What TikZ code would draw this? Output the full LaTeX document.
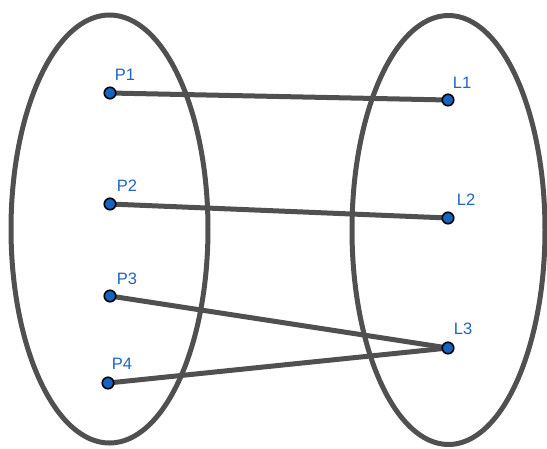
\documentclass[tikz,border=0pt]{standalone}
\usepackage{fontspec}
\setmainfont{Liberation Sans}
\definecolor{stroke}{HTML}{505050}
\definecolor{ptblue}{HTML}{1565C0}
\definecolor{lblblue}{HTML}{1F66C2}
\pgfdeclarelayer{bg}
\pgfsetlayers{bg,main}
\begin{document}
\begin{tikzpicture}[x=1pt,y=-1pt,
  setshape/.style={draw=stroke,line width=5pt},
  link/.style={draw=stroke,line width=5pt},
  pt/.style={circle,fill=ptblue,draw=black,line width=1.6pt,minimum size=11.5pt,inner sep=0pt},
  lbl/.style={text=lblblue,font=\fontsize{16.5}{19}\selectfont,inner sep=0pt}]
\useasboundingbox (0,0) rectangle (547,448);
\node[pt] (P1) at (110,93) {};
\node[pt] (P2) at (110,204) {};
\node[pt] (P3) at (110,296) {};
\node[pt] (P4) at (108,383) {};
\node[pt] (L1) at (448,100) {};
\node[pt] (L2) at (448,218) {};
\node[pt] (L3) at (448,348) {};
\begin{pgfonlayer}{bg}
\fill[white] (0,0) rectangle (547,448);
\draw[setshape] (109.5,229) ellipse [x radius=98.5, y radius=214];
\draw[setshape] (448.5,230) ellipse [x radius=96.5, y radius=214.5];
\draw[link] (P1.center) -- (L1.center);
\draw[link] (P2.center) -- (L2.center);
\draw[link] (P3.center) -- (L3.center);
\draw[link] (P4.center) -- (L3.center);
\end{pgfonlayer}
\node[lbl] (tP1) at (125,75) {P1};
\node[lbl] (tP2) at (127,186) {P2};
\node[lbl] (tP3) at (127,279) {P3};
\node[lbl] (tP4) at (122,364) {P4};
\node[lbl] (tL1) at (462,83) {L1};
\node[lbl] (tL2) at (466,200) {L2};
\node[lbl] (tL3) at (463,329) {L3};
\end{tikzpicture}
\end{document}
